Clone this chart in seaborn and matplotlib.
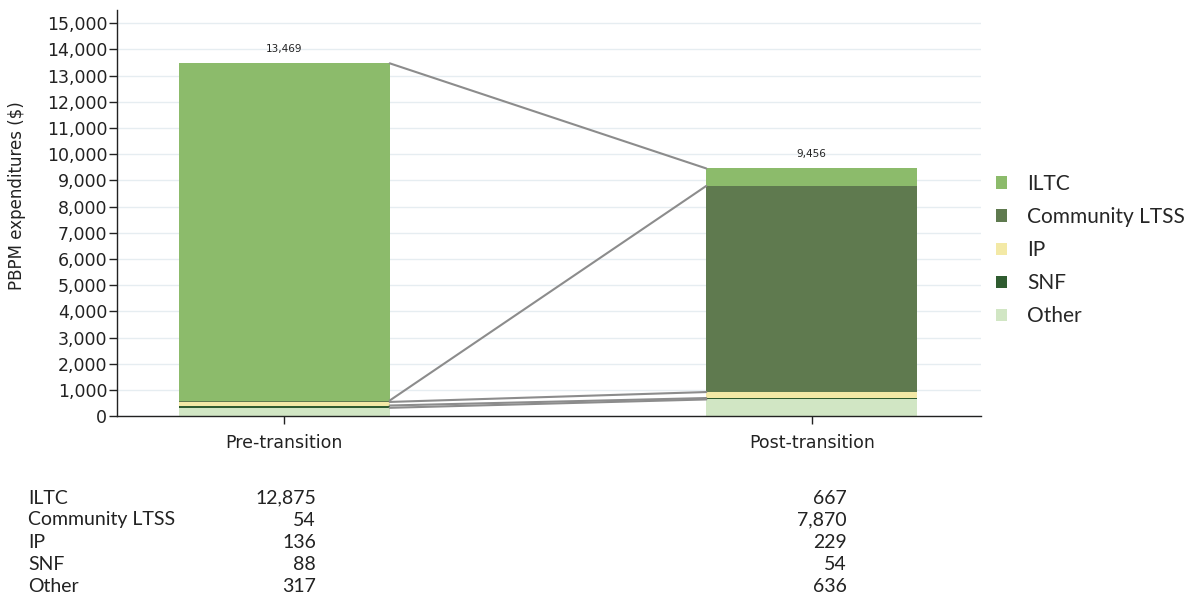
import numpy as np
import pandas as pd
import matplotlib
matplotlib.use("Agg")
import matplotlib.pyplot as plt
from matplotlib.patches import Patch
from matplotlib.ticker import FuncFormatter
import seaborn as sns

periods = ["Pre-transition", "Post-transition"]
# listed top of the stack first, as in the legend
components = ["ILTC", "Community LTSS", "IP", "SNF", "Other"]
pre_values = [12875, 54, 136, 88, 317]
post_values = [667, 7870, 229, 54, 636]
totals = [13469, 9456]
colors = ["#8cbb6b", "#5f7a4f", "#f3e9a6", "#2f5c30", "#d1e6c4"]

sns.set_theme(style="white")
plt.rcParams["font.family"] = ["DejaVu Sans"]

fig = plt.figure(figsize=(11.93, 5.97), dpi=100)
ax = fig.add_axes([0.098, 0.303, 0.724, 0.68])

# cumulative heights, drawn tallest first so each lower layer covers the one above
pre_cum = np.cumsum(pre_values[::-1])[::-1]
post_cum = np.cumsum(post_values[::-1])[::-1]
bar_w = 0.4
for i, comp in enumerate(components):
    df = pd.DataFrame({"period": periods, "value": [pre_cum[i], post_cum[i]]})
    sns.barplot(data=df, x="period", y="value", order=periods, color=colors[i],
                width=bar_w, saturation=1, linewidth=0, ax=ax)

# connector lines between segment tops
for i in range(len(components)):
    ax.plot([0 + bar_w / 2, 1 - bar_w / 2], [pre_cum[i], post_cum[i]],
            color="#8c8c8c", lw=1.5, zorder=3)

for x, t in enumerate(totals):
    ax.text(x, t + 350, f"{t:,}", ha="center", va="bottom", fontsize=7.5, color="#222222")

ax.set_xlim(-0.317, 1.32)
ax.set_ylim(0, 15500)
ax.set_yticks(np.arange(0, 15001, 1000))
ax.yaxis.set_major_formatter(FuncFormatter(lambda v, p: f"{int(v):,}"))
ax.grid(axis="y", color="#e6edf1", lw=1)
ax.set_axisbelow(True)
ax.set_xlabel("")
ax.set_ylabel("PBPM expenditures ($)", fontsize=12, color="#222222")
ax.yaxis.set_label_coords(-0.105, 0.544)
ax.tick_params(axis="y", labelsize=12.5, length=6, width=1, color="#222222",
               left=True, pad=1, labelcolor="#222222")
ax.tick_params(axis="x", labelsize=12.5, length=6, width=1, color="#222222",
               bottom=True, pad=7, labelcolor="#222222")
for s in ["top", "right"]:
    ax.spines[s].set_visible(False)
for s in ["left", "bottom"]:
    ax.spines[s].set_color("#222222")
    ax.spines[s].set_linewidth(1)

handles = [Patch(facecolor=c, edgecolor="none") for c in colors]
fig.legend(handles, components, loc="upper left", bbox_to_anchor=(0.819, 0.740),
           frameon=False, handlelength=0.55, handleheight=0.55,
           handletextpad=0.94, labelspacing=0.63,
           prop={"family": ["Lato", "DejaVu Sans"], "size": 15})

# data table underneath
row_y = [498, 520, 542, 564, 586]
tfont = {"family": ["Lato", "DejaVu Sans"], "size": 14}
for comp, pv, qv, y in zip(components, pre_values, post_values, row_y):
    fy = 1 - y / 597
    fig.text(28 / 1193, fy, comp, ha="left", va="center", color="#222222", fontdict=tfont)
    fig.text(316 / 1193, fy, f"{pv:,}", ha="right", va="center", color="#222222", fontdict=tfont)
    fig.text(847 / 1193, fy, f"{qv:,}", ha="right", va="center", color="#222222", fontdict=tfont)

fig.savefig("out.png", dpi=100)
